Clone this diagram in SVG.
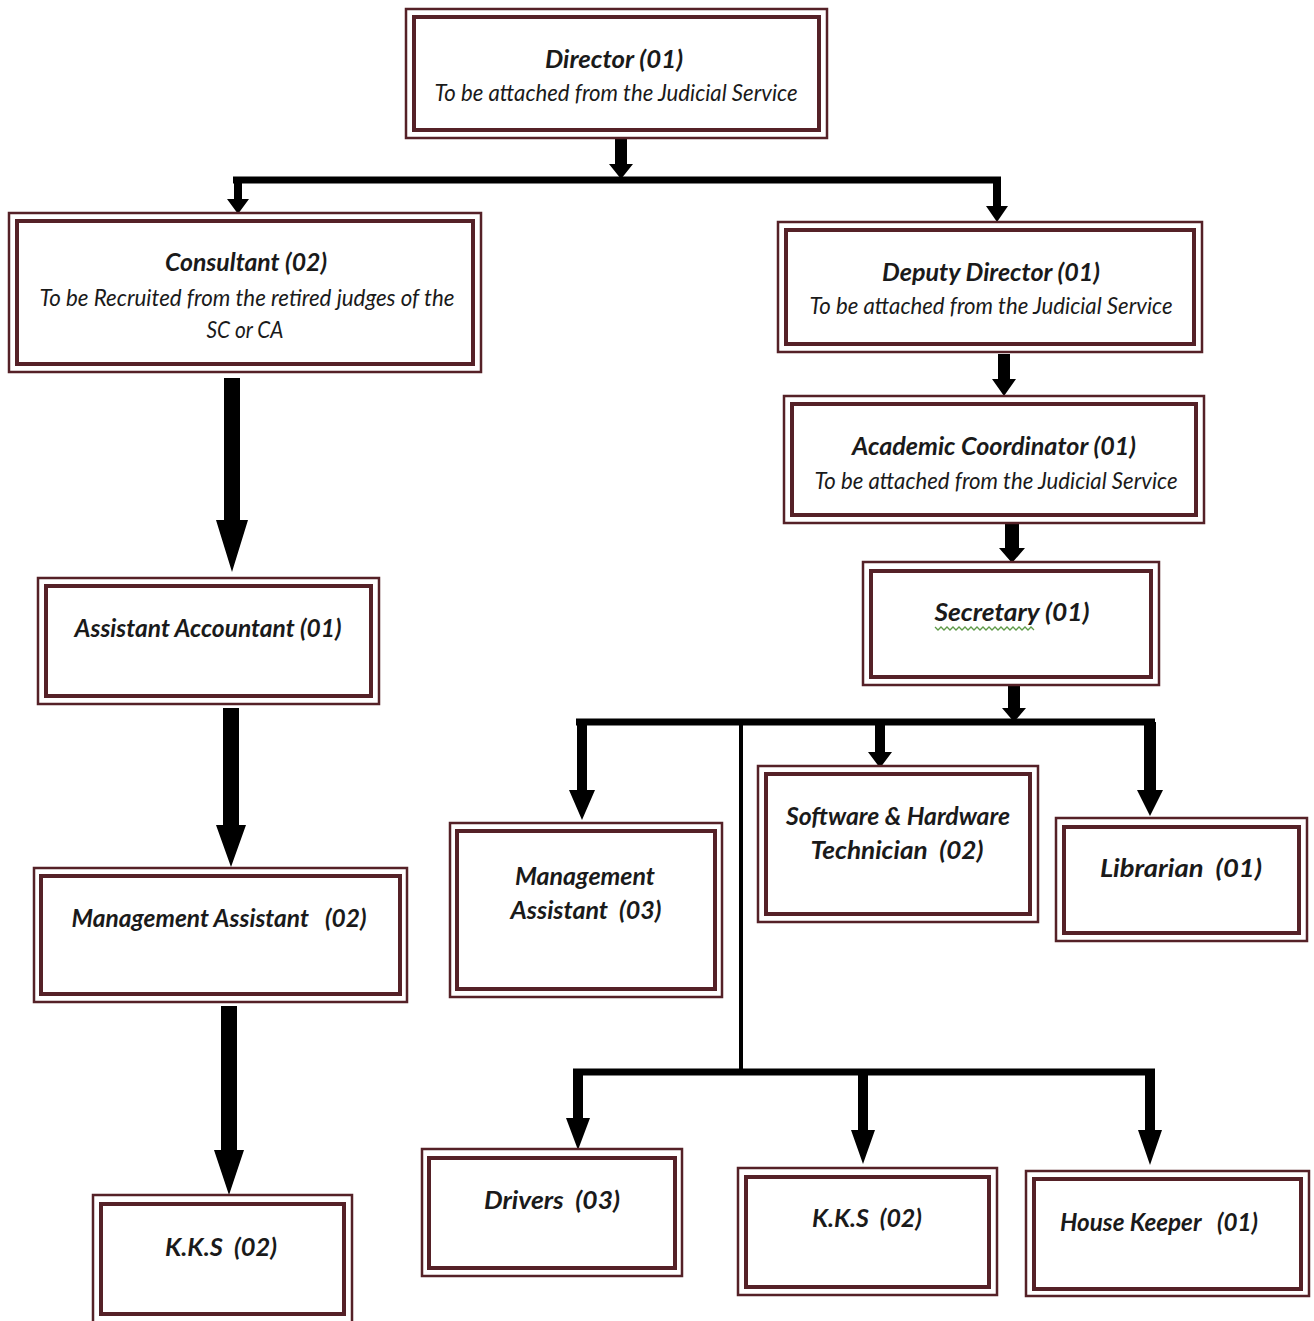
<svg xmlns="http://www.w3.org/2000/svg" width="1314" height="1321" viewBox="0 0 1314 1321">
<style>
.o{fill:#fff;stroke:#552127;stroke-width:2.5}
.i{fill:none;stroke:#552127;stroke-width:4}
.t{font-family:Lato,"Open Sans","DejaVu Sans",sans-serif;font-style:italic;font-weight:bold;font-size:25px;fill:#1a1a1a;text-anchor:middle}
.s{font-family:Lato,"Open Sans","DejaVu Sans",sans-serif;font-style:italic;font-weight:normal;font-size:23px;fill:#1a1a1a;text-anchor:middle}
.a{fill:#000}
.l{stroke:#000;fill:none}
</style>
<rect width="1314" height="1321" fill="#fff"/>
<g id="connectors">
<path class="a" d="M615 139H627V164H633L621 179L609 164H615Z"/>
<line class="l" x1="233" y1="180" x2="1001" y2="180" stroke-width="7"/>
<path class="a" d="M234 180H242V199H249L238 214L227 199H234Z"/>
<path class="a" d="M993 180H1001V206H1008L997 222L986 206H993Z"/>
<path class="a" d="M224 378H240V520H248L232 572L216 520H224Z"/>
<path class="a" d="M223 708H239V825H246L231 867L216 825H223Z"/>
<path class="a" d="M221 1006H237V1150H244L229 1195L214 1150H221Z"/>
<path class="a" d="M998 354H1010V379H1016L1004 396L992 379H998Z"/>
<path class="a" d="M1005 524H1019V548H1025L1012 563L999 548H1005Z"/>
<path class="a" d="M1008 686H1020V708H1026L1014 722L1002 708H1008Z"/>
<line class="l" x1="576" y1="722" x2="1155" y2="722" stroke-width="7"/>
<path class="a" d="M577 722H587V790H595L582 820L569 790H577Z"/>
<path class="a" d="M875 722H885V752H892L880 768L868 752H875Z"/>
<path class="a" d="M1144 722H1156V790H1163L1150 816L1137 790H1144Z"/>
<line class="l" x1="741" y1="722" x2="741" y2="1072" stroke-width="4"/>
<line class="l" x1="573" y1="1072" x2="1155" y2="1072" stroke-width="7"/>
<path class="a" d="M573 1072H583V1118H590L578 1150L566 1118H573Z"/>
<path class="a" d="M858 1072H868V1130H875L863 1164L851 1130H858Z"/>
<path class="a" d="M1145 1072H1155V1130H1162L1150 1165L1138 1130H1145Z"/>
</g>
<g id="director">
<rect class="o" x="406" y="9" width="421" height="129"/>
<rect class="i" x="414" y="17" width="405" height="113"/>
<text class="t" x="614" y="68" textLength="138" lengthAdjust="spacingAndGlyphs">Director (01)</text>
<text class="s" x="616" y="101" textLength="363" lengthAdjust="spacingAndGlyphs">To be attached from the Judicial Service</text>
</g>
<g id="consultant">
<rect class="o" x="9" y="213" width="472" height="159"/>
<rect class="i" x="17" y="221" width="456" height="143"/>
<text class="t" x="246" y="271" textLength="162" lengthAdjust="spacingAndGlyphs">Consultant (02)</text>
<text class="s" x="247" y="306" textLength="415" lengthAdjust="spacingAndGlyphs">To be Recruited from the retired judges of the</text>
<text class="s" x="245" y="338" textLength="77" lengthAdjust="spacingAndGlyphs">SC or CA</text>
</g>
<g id="assistant-accountant">
<rect class="o" x="38" y="578" width="341" height="126"/>
<rect class="i" x="46" y="586" width="325" height="110"/>
<text class="t" x="208" y="637" textLength="267" lengthAdjust="spacingAndGlyphs">Assistant Accountant (01)</text>
</g>
<g id="management-assistant-02">
<rect class="o" x="34" y="868" width="373" height="134"/>
<rect class="i" x="41" y="876" width="359" height="118"/>
<text class="t" x="219" y="927" textLength="295" lengthAdjust="spacingAndGlyphs" xml:space="preserve">Management Assistant   (02)</text>
</g>
<g id="kks-left">
<rect class="o" x="93" y="1195" width="259" height="128"/>
<rect class="i" x="101" y="1204" width="243" height="110"/>
<text class="t" x="221" y="1256" textLength="112" lengthAdjust="spacingAndGlyphs" xml:space="preserve">K.K.S  (02)</text>
</g>
<g id="deputy-director">
<rect class="o" x="778" y="222" width="424" height="130"/>
<rect class="i" x="786" y="230" width="408" height="114"/>
<text class="t" x="991" y="281" textLength="218" lengthAdjust="spacingAndGlyphs">Deputy Director (01)</text>
<text class="s" x="991" y="314" textLength="363" lengthAdjust="spacingAndGlyphs">To be attached from the Judicial Service</text>
</g>
<g id="academic-coordinator">
<rect class="o" x="784" y="396" width="420" height="127"/>
<rect class="i" x="792" y="404" width="404" height="111"/>
<text class="t" x="994" y="455" textLength="284" lengthAdjust="spacingAndGlyphs">Academic Coordinator (01)</text>
<text class="s" x="996" y="489" textLength="363" lengthAdjust="spacingAndGlyphs">To be attached from the Judicial Service</text>
</g>
<g id="secretary">
<rect class="o" x="863" y="562" width="296" height="123"/>
<rect class="i" x="871" y="571" width="280" height="106"/>
<text class="t" x="1012" y="621" textLength="155" lengthAdjust="spacingAndGlyphs">Secretary (01)</text>
<path d="M935 627l3 3 3-3 3 3 3-3 3 3 3-3 3 3 3-3 3 3 3-3 3 3 3-3 3 3 3-3 3 3 3-3 3 3 3-3 3 3 3-3 3 3 3-3 3 3 3-3 3 3 3-3 3 3 3-3 3 3 3-3 3 3 3-3 3 3" fill="none" stroke="#5e9a48" stroke-width="1.3"/>
</g>
<g id="management-assistant-03">
<rect class="o" x="450" y="823" width="272" height="174"/>
<rect class="i" x="457" y="831" width="258" height="158"/>
<text class="t" x="585" y="885" textLength="140" lengthAdjust="spacingAndGlyphs">Management</text>
<text class="t" x="586" y="919" textLength="151" lengthAdjust="spacingAndGlyphs" xml:space="preserve">Assistant  (03)</text>
</g>
<g id="software-hardware-technician">
<rect class="o" x="758" y="766" width="280" height="156"/>
<rect class="i" x="766" y="774" width="264" height="140"/>
<text class="t" x="898" y="825" textLength="224" lengthAdjust="spacingAndGlyphs">Software &amp; Hardware</text>
<text class="t" x="897" y="859" textLength="173" lengthAdjust="spacingAndGlyphs" xml:space="preserve">Technician  (02)</text>
</g>
<g id="librarian">
<rect class="o" x="1056" y="818" width="251" height="123"/>
<rect class="i" x="1064" y="827" width="235" height="106"/>
<text class="t" x="1181" y="877" textLength="162" lengthAdjust="spacingAndGlyphs" xml:space="preserve">Librarian  (01)</text>
</g>
<g id="drivers">
<rect class="o" x="422" y="1149" width="260" height="127"/>
<rect class="i" x="429" y="1158" width="246" height="110"/>
<text class="t" x="552" y="1209" textLength="136" lengthAdjust="spacingAndGlyphs" xml:space="preserve">Drivers  (03)</text>
</g>
<g id="kks-middle">
<rect class="o" x="738" y="1168" width="259" height="127"/>
<rect class="i" x="746" y="1177" width="243" height="110"/>
<text class="t" x="867" y="1227" textLength="110" lengthAdjust="spacingAndGlyphs" xml:space="preserve">K.K.S  (02)</text>
</g>
<g id="house-keeper">
<rect class="o" x="1026" y="1171" width="283" height="125"/>
<rect class="i" x="1034" y="1179" width="267" height="110"/>
<text class="t" x="1159" y="1231" textLength="198" lengthAdjust="spacingAndGlyphs" xml:space="preserve">House Keeper   (01)</text>
</g>
</svg>
